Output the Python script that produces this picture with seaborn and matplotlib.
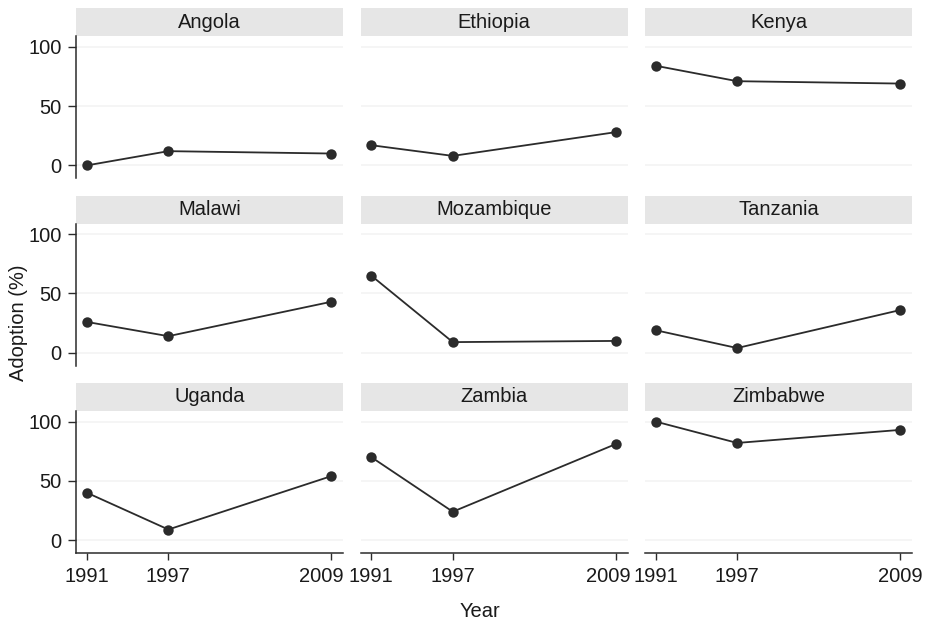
import numpy as np
import pandas as pd
import seaborn as sns
import matplotlib.pyplot as plt
from matplotlib.patches import Rectangle
from matplotlib.transforms import ScaledTranslation

# data
countries = ["Angola", "Ethiopia", "Kenya",
             "Malawi", "Mozambique", "Tanzania",
             "Uganda", "Zambia", "Zimbabwe"]
years = [1991, 1997, 2009]
angola = [0, 12, 10]
ethiopia = [17, 8, 28]
kenya = [84, 71, 69]
malawi = [26, 14, 43]
mozambique = [65, 9, 10]
tanzania = [19, 4, 36]
uganda = [40, 9, 54]
zambia = [70, 24, 81]
zimbabwe = [100, 82, 93]

values = [angola, ethiopia, kenya, malawi, mozambique, tanzania, uganda, zambia, zimbabwe]
df = pd.DataFrame({
    "country": np.repeat(countries, len(years)),
    "year": years * len(countries),
    "adoption": np.concatenate(values),
})

sns.set_theme(style="white")
plt.rcParams["font.family"] = ["Liberation Sans", "DejaVu Sans"]

dark = "#2b2b2b"
txt = "#1a1a1a"
fs = 14.5
g = sns.relplot(data=df, x="year", y="adoption", col="country", col_wrap=3,
                kind="line", marker="o", color=dark, linewidth=1.3,
                markersize=7.5, markeredgecolor=dark, markeredgewidth=0,
                height=2, aspect=1.5, facet_kws=dict(sharex=True, sharey=True))
fig = g.figure
fig.set_size_inches(9.28, 6.23)
fig.subplots_adjust(left=0.082, right=0.983, top=0.942, bottom=0.112,
                    wspace=0.064, hspace=0.317)
g.set_titles("")
g.set_axis_labels("", "")

for i, ax in enumerate(g.axes.flat):
    row, col = divmod(i, 3)
    ax.set_xlim(1990.2, 2009.9)
    ax.set_ylim(-11, 109)
    ax.set_xticks(years)
    ax.set_yticks([0, 50, 100])
    ax.grid(axis="y", color="#f4f4f4", linewidth=1.2)
    ax.set_axisbelow(True)
    for s in ["top", "right"]:
        ax.spines[s].set_visible(False)
    ax.spines["left"].set_visible(col == 0)
    ax.spines["bottom"].set_visible(row == 2)
    for s in ["left", "bottom"]:
        ax.spines[s].set_color(dark)
        ax.spines[s].set_linewidth(1.1)
    ax.tick_params(axis="y", left=(col == 0), labelleft=(col == 0),
                   length=5.5, width=1, color=dark, labelsize=fs, labelcolor=txt, pad=5)
    ax.tick_params(axis="x", bottom=(row == 2), labelbottom=(row == 2),
                   length=5, width=1, color=dark, labelsize=fs, labelcolor=txt, pad=5)
    # last year label nudged left so it does not run into the next panel
    if row == 2 and col < 2:
        lab = ax.get_xticklabels()[-1]
        shift = -10 if col == 0 else -7
        lab.set_transform(lab.get_transform() + ScaledTranslation(shift / 100, 0, fig.dpi_scale_trans))
    # strip header
    ax.add_patch(Rectangle((0, 1.0), 1, 0.197, transform=ax.transAxes,
                           facecolor="#e6e6e6", edgecolor="none", clip_on=False))
    ax.text(0.5, 1.0985, countries[i], transform=ax.transAxes, ha="center", va="center",
            fontsize=fs, color=txt)

fig.text(0.0194, 0.4815, "Adoption (%)", rotation=90, ha="center", va="center",
         fontsize=fs, color=txt)
fig.text(0.517, 0.0177, "Year", ha="center", va="center", fontsize=fs, color=txt)

fig.savefig("out.png", dpi=100)
